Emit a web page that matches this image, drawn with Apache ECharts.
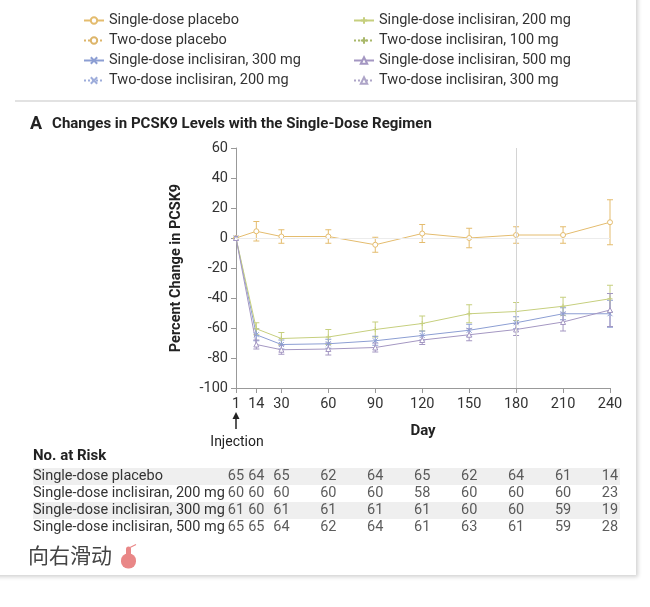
<!DOCTYPE html>
<html>
<head>
<meta charset="utf-8">
<script src="https://cdn.jsdelivr.net/npm/echarts@6/dist/echarts.min.js"></script>
<style>
  html, body { margin:0; padding:0; background:#fff; width:650px; height:607px; overflow:hidden; }
  #card { position:absolute; left:-10px; top:-10px; width:646px; height:585px; background:#fff;
          box-shadow: 2px 2px 4px rgba(0,0,0,0.18); }
  #sep { position:absolute; left:15px; top:100px; width:621px; height:2px; background:#e2e2e2; }
  #chart { position:absolute; left:0; top:0; width:650px; height:607px; }
</style>
</head>
<body>
<div id="card"></div>
<div id="sep"></div>
<div id="chart"></div>
<script>
// ---- data ----
var days = [1, 14, 30, 60, 90, 120, 150, 180, 210, 240];
var placebo    = [0, 4.5, 1, 1, -4.5, 3, 0, 2, 2, 10.5];
var placeboErr = [0, 6.5, 4.5, 4.5, 5, 6, 6.5, 5.5, 5.5, 15];
var inc200     = [0, -60.5, -67, -66, -61, -57, -50.5, -49, -45.5, -40.5];
var inc200Err  = [0, 4, 4, 5, 5, 5, 6, 6, 6, 9];
var inc300     = [0, -64.5, -71, -70.5, -68.5, -65, -61.5, -56.5, -50.5, -50.5];
var inc300Err  = [0, 4, 3, 3, 3, 3, 4, 4, 4, 9];
var inc500     = [0, -71, -74.5, -74, -73, -68, -64.5, -61, -56, -48];
var inc500Err  = [0, 3, 3, 4, 3, 3, 4, 4, 6, 11];
var yTicks = { min: -100, max: 60, interval: 20 };
var riskRows = ['Single-dose placebo', 'Single-dose inclisiran, 200 mg', 'Single-dose inclisiran, 300 mg', 'Single-dose inclisiran, 500 mg'];
var riskPlacebo = [65, 64, 65, 62, 64, 65, 62, 64, 61, 14];
var risk200     = [60, 60, 60, 60, 60, 58, 60, 60, 60, 23];
var risk300     = [61, 60, 61, 61, 61, 61, 60, 60, 59, 19];
var risk500     = [65, 65, 64, 62, 64, 61, 63, 61, 59, 28];
var legendCol1 = ['Single-dose placebo', 'Two-dose placebo', 'Single-dose inclisiran, 300 mg', 'Two-dose inclisiran, 200 mg'];
var legendCol2 = ['Single-dose inclisiran, 200 mg', 'Two-dose inclisiran, 100 mg', 'Single-dose inclisiran, 500 mg', 'Two-dose inclisiran, 300 mg'];

var C = {
  placebo: '#E4BC6E', placebo2: '#DDB56A',
  i200: '#C6CF7E', i100: '#A9B86A',
  i300: '#8C9ED3', i200b: '#9EADDB',
  i500: '#A497C2', i300b: '#AEA5C8'
};
var FONT = 'Roboto';
var PLUS = 'path://M0,5L10,5M5,0L5,10';
var CROSS = 'path://M0,0L10,10M10,0L0,10';

function pts(vals) { return days.map(function (d, i) { return [d, vals[i]]; }); }
function errPts(vals, errs) { return days.map(function (d, i) { return [d, vals[i] - errs[i], vals[i] + errs[i]]; }); }

function lineSeries(name, vals, color, symbol, dotted, extra) {
  var s = {
    name: name, type: 'line', data: vals ? pts(vals) : [],
    xAxisIndex: 0, yAxisIndex: 0,
    symbol: symbol, symbolSize: 5, showSymbol: true,
    lineStyle: { color: color, width: 1, type: dotted ? 'dotted' : 'solid' },
    itemStyle: { color: '#fff', borderColor: color, borderWidth: 1 },
    emphasis: { disabled: true }, z: 3
  };
  if (extra) for (var k in extra) s[k] = extra[k];
  return s;
}
function errSeries(vals, errs, color) {
  return {
    type: 'custom', name: 'err', xAxisIndex: 0, yAxisIndex: 0, z: 2,
    data: errPts(vals, errs), silent: true,
    renderItem: function (params, api) {
      var x = api.value(0), lo = api.value(1), hi = api.value(2);
      if (hi - lo < 0.01) return null;
      var p1 = api.coord([x, lo]), p2 = api.coord([x, hi]);
      var st = { stroke: color, lineWidth: 1 };
      return { type: 'group', children: [
        { type: 'line', shape: { x1: p1[0], y1: p1[1], x2: p2[0], y2: p2[1] }, style: st },
        { type: 'line', shape: { x1: p1[0] - 3, y1: p1[1], x2: p1[0] + 3, y2: p1[1] }, style: st },
        { type: 'line', shape: { x1: p2[0] - 3, y1: p2[1], x2: p2[0] + 3, y2: p2[1] }, style: st }
      ]};
    }
  };
}
function riskData() {
  var out = [];
  [riskPlacebo, risk200, risk300, risk500].forEach(function (row, r) {
    row.forEach(function (v, i) { out.push([days[i], r, v]); });
  });
  return out;
}

var legendBase = {
  orient: 'vertical', top: 8, itemWidth: 20, itemHeight: 8, itemGap: 5,
  textStyle: { fontFamily: FONT, fontSize: 14.5, color: '#333' },
  selectedMode: false
};

var chart = echarts.init(document.getElementById('chart'), null, { renderer: 'canvas' });
var option = {
  backgroundColor: 'transparent',
  animation: false,
  title: {
    left: 25, top: 110,
    text: '{a|A}  {b|Changes in PCSK9 Levels with the Single-Dose Regimen}',
    textStyle: { rich: {
      a: { fontFamily: FONT, fontSize: 18, fontWeight: 'bold', color: '#222' },
      b: { fontFamily: FONT, fontSize: 15, fontWeight: 'bold', color: '#222' }
    }}
  },
  legend: [
    Object.assign({}, legendBase, { left: 78, data: legendCol1 }),
    Object.assign({}, legendBase, { left: 348, data: legendCol2 })
  ],
  grid: [
    { left: 236, right: 40, top: 148, height: 240 },
    { left: 236, right: 40, top: 468, height: 68 }
  ],
  xAxis: [
    {
      type: 'value', gridIndex: 0, min: 1, max: 240,
      name: 'Day', nameLocation: 'middle', nameGap: 36,
      nameTextStyle: { fontFamily: FONT, fontSize: 15, fontWeight: 'bold', color: '#222' },
      axisLine: { onZero: false, lineStyle: { color: '#999' } },
      axisTick: { show: true, length: 5, customValues: days, lineStyle: { color: '#999' } },
      axisLabel: { customValues: days, fontFamily: FONT, fontSize: 14.5, color: '#333', margin: 9 },
      splitLine: { show: false }
    },
    { type: 'value', gridIndex: 1, min: 1, max: 240, show: false }
  ],
  yAxis: [
    {
      type: 'value', gridIndex: 0, min: yTicks.min, max: yTicks.max, interval: yTicks.interval,
      name: 'Percent Change in PCSK9', nameLocation: 'middle', nameGap: 52, nameRotate: 90,
      nameTextStyle: { fontFamily: FONT, fontSize: 14.5, fontWeight: 'bold', color: '#222' },
      axisLine: { show: true, onZero: false, lineStyle: { color: '#999' } },
      axisTick: { show: true, length: 5, lineStyle: { color: '#999' } },
      axisLabel: { fontFamily: FONT, fontSize: 14.5, color: '#333', margin: 8 },
      splitLine: { show: false }
    },
    {
      type: 'category', gridIndex: 1, data: riskRows, inverse: true,
      axisLine: { show: false }, axisTick: { show: false },
      axisLabel: { interval: 0, hideOverlap: false, align: 'left', margin: 203, fontFamily: FONT, fontSize: 14.5, color: '#333' }
    }
  ],
  graphic: [
    { type: 'rect', z: -1, shape: { x: 33, y: 468, width: 587, height: 17 }, style: { fill: '#efefef' } },
    { type: 'rect', z: -1, shape: { x: 33, y: 502, width: 587, height: 17 }, style: { fill: '#efefef' } },
    { type: 'text', left: 33, top: 449, style: { text: 'No. at Risk', font: 'bold 15px Roboto', fill: '#222' } },
    { type: 'text', left: 28, top: 545, style: { text: '向右滑动', font: '21px "Noto Sans CJK SC"', fill: '#444' } },
    { type: 'group', left: 121, top: 542, children: [
      { type: 'rect', shape: { x: 2, y: 9, width: 15, height: 15, r: 7 }, style: { fill: '#E98787' } },
      { type: 'rect', shape: { x: 7, y: 2, width: 5, height: 12, r: 2.5 }, style: { fill: '#E98787' } },
      { type: 'polyline', shape: { points: [[11, 3], [17, 0]] }, style: { stroke: '#E98787', lineWidth: 1.2, fill: null } }
    ]}
  ],
  series: [
    lineSeries('Single-dose placebo', placebo, C.placebo, 'circle', false, {
      markLine: { silent: true, symbol: 'none', label: { show: false },
        lineStyle: { color: '#d4d4d4', type: 'solid', width: 1 },
        data: [{ xAxis: 180 }, { yAxis: 0, lineStyle: { color: '#ececec' } }] }
    }),
    lineSeries('Two-dose placebo', null, C.placebo2, 'circle', true),
    lineSeries('Single-dose inclisiran, 300 mg', inc300, C.i300, CROSS, false),
    lineSeries('Two-dose inclisiran, 200 mg', null, C.i200b, CROSS, true),
    lineSeries('Single-dose inclisiran, 200 mg', inc200, C.i200, PLUS, false),
    lineSeries('Two-dose inclisiran, 100 mg', null, C.i100, PLUS, true),
    lineSeries('Single-dose inclisiran, 500 mg', inc500, C.i500, 'triangle', false),
    lineSeries('Two-dose inclisiran, 300 mg', null, C.i300b, 'triangle', true),
    errSeries(placebo, placeboErr, C.placebo),
    errSeries(inc200, inc200Err, C.i200),
    errSeries(inc300, inc300Err, C.i300),
    errSeries(inc500, inc500Err, C.i500),
    {
      type: 'scatter', name: 'risk', xAxisIndex: 1, yAxisIndex: 1, data: riskData(),
      symbolSize: 1, itemStyle: { color: 'rgba(0,0,0,0)' }, silent: true,
      encode: { x: 0, y: 1 },
      label: { show: true, position: 'inside', fontFamily: FONT, fontSize: 14.5, color: '#333',
        formatter: function (p) { return String(p.value[2]); } }
    }
  ]
};
chart.setOption(option);

// Injection arrow under day 1
var p0 = chart.convertToPixel({ xAxisIndex: 0, yAxisIndex: 0 }, [days[0], yTicks.min]);
chart.setOption({ graphic: option.graphic.concat([
  { type: 'line', shape: { x1: p0[0], y1: p0[1] + 41, x2: p0[0], y2: p0[1] + 30 }, style: { stroke: '#222', lineWidth: 1.5 } },
  { type: 'polygon', shape: { points: [[p0[0] - 3.5, p0[1] + 31], [p0[0] + 3.5, p0[1] + 31], [p0[0], p0[1] + 24]] }, style: { fill: '#222' } },
  { type: 'text', x: p0[0] + 1, y: p0[1] + 54, style: { text: 'Injection', font: '14px Roboto', fill: '#222', align: 'center', verticalAlign: 'middle' } }
]) });
</script>
</body>
</html>
